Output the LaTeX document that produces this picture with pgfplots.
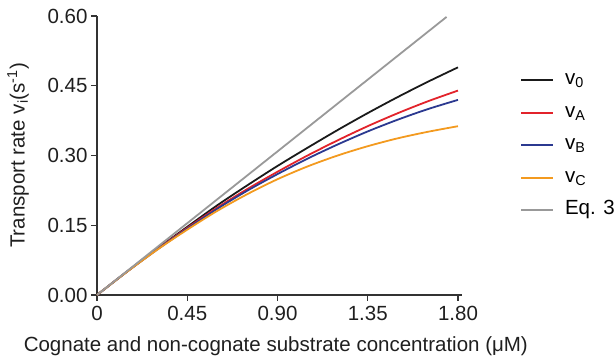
\documentclass[border=0pt]{standalone}
\usepackage{pgfplots}
\pgfplotsset{compat=1.18}
\usepackage{fontspec}
\setmainfont{Liberation Sans}
\definecolor{cblack}{HTML}{1A1A1A}
\definecolor{cred}{HTML}{E2232B}
\definecolor{cblue}{HTML}{2B3990}
\definecolor{corange}{HTML}{F39A1F}
\definecolor{cgray}{HTML}{999999}
\definecolor{caxis}{HTML}{333333}
\begin{document}
\begin{tikzpicture}
\path[use as bounding box] (-97pt,-61pt) rectangle (517pt,295pt);
\begin{axis}[
  at={(0pt,0pt)}, anchor=south west,
  scale only axis,
  width=365pt, height=279pt,
  xmin=0, xmax=1.82, ymin=0, ymax=0.6,
  axis x line=bottom, axis y line=left,
  axis line style={-, line width=1.6pt, caxis},
  tick style={line width=1.4pt, caxis},
  tick align=outside,
  major tick length=6pt,
  xtick={0,0.45,0.9,1.35,1.8},
  xticklabels={0,0.45,0.90,1.35,1.80},
  ytick={0,0.15,0.3,0.45,0.6},
  yticklabels={0.00,0.15,0.30,0.45,0.60},
  ticklabel style={font=\fontsize{20.5}{22}\selectfont, text=black!88},
  xticklabel style={yshift=-2pt},
  xlabel={Cognate and non-cognate substrate concentration (μM)},
  ylabel={Transport rate v\textsubscript{i}(s\textsuperscript{-1})},
  every axis x label/.style={at={(axis description cs:0.49,0)}, yshift=-51pt, anchor=center,
    font=\fontsize{20.5}{22}\selectfont, text=black!88},
  every axis y label/.style={at={(axis description cs:0,0.50)}, xshift=-79pt, rotate=90, anchor=center,
    font=\fontsize{20.5}{22}\selectfont, text=black!88},
  legend style={draw=none, fill=none, inner sep=0pt, at={(rel axis cs:1.159,0.805)}, anchor=north west,
    font=\fontsize{20.5}{22}\selectfont, row sep=13.5pt, column sep=11pt,
    nodes={inner sep=0pt, text height=14pt, text depth=5pt}},
  legend cell align=left,
  legend image post style={line width=1.8pt},
  legend image code/.code={\draw[#1] (0pt,0pt) -- (32pt,0pt);},
  every axis plot/.append style={line width=1.8pt},
  clip=false,
]
\addplot[cblack, smooth] coordinates {(0,0) (0.15,0.0506) (0.3,0.0994) (0.45,0.1466) (0.6,0.1930) (0.75,0.2360) (0.9,0.2775) (1.05,0.3167) (1.2,0.3548) (1.35,0.3912) (1.5,0.4258) (1.65,0.4586) (1.8,0.4896)};
\addlegendentry{v\textsubscript{0}}
\addplot[cred, smooth] coordinates {(0,0) (0.15,0.0504) (0.3,0.0985) (0.45,0.1443) (0.6,0.1880) (0.75,0.2280) (0.9,0.2650) (1.05,0.3000) (1.2,0.3326) (1.35,0.3631) (1.5,0.3910) (1.65,0.4166) (1.8,0.4396)};
\addlegendentry{v\textsubscript{A}}
\addplot[cblue, smooth] coordinates {(0,0) (0.15,0.0502) (0.3,0.0978) (0.45,0.1425) (0.6,0.1855) (0.75,0.2245) (0.9,0.2600) (1.05,0.2933) (1.2,0.3237) (1.35,0.3518) (1.5,0.3771) (1.65,0.3998) (1.8,0.4196)};
\addlegendentry{v\textsubscript{B}}
\addplot[corange, smooth] coordinates {(0,0) (0.15,0.0500) (0.3,0.0972) (0.45,0.1405) (0.6,0.1810) (0.75,0.2170) (0.9,0.2490) (1.05,0.2765) (1.2,0.3000) (1.35,0.3200) (1.5,0.3370) (1.65,0.3510) (1.8,0.3630)};
\addlegendentry{v\textsubscript{C}}
\addplot[cgray] coordinates {(0,0) (1.743,0.598)};
\addlegendentry{Eq. 3}
\end{axis}
\end{tikzpicture}
\end{document}
